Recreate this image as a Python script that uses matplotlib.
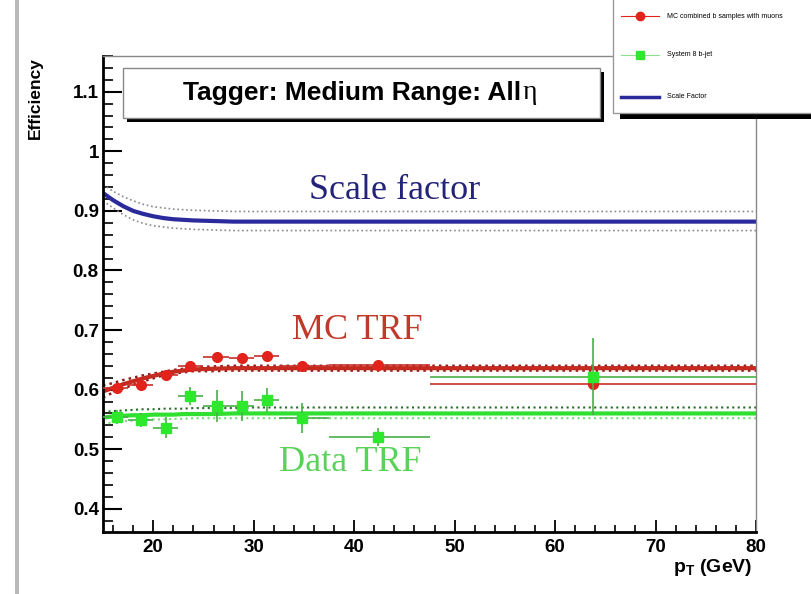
import numpy as np
import matplotlib
matplotlib.use('Agg')
import matplotlib.pyplot as plt
from matplotlib.patches import Rectangle
from matplotlib.lines import Line2D
from matplotlib.text import Annotation
from matplotlib.ticker import MultipleLocator

plt.rcParams['font.family'] = ['Liberation Sans', 'DejaVu Sans']
plt.rcParams['mathtext.fontset'] = 'custom'
plt.rcParams['mathtext.bf'] = 'Liberation Sans:bold'
plt.rcParams['mathtext.rm'] = 'Liberation Sans'

# pT bins (GeV) and measured points
bin_lo = [15.0, 17.5, 20.0, 22.5, 25.0, 27.5, 30.0, 32.5, 37.5, 47.5]
bin_hi = [17.5, 20.0, 22.5, 25.0, 27.5, 30.0, 32.5, 37.5, 47.5, 80.0]
pt = [16.4, 18.75, 21.3, 23.7, 26.3, 28.8, 31.3, 34.8, 42.4, 63.8]

mc_eff = [0.603, 0.608, 0.625, 0.639, 0.655, 0.653, 0.656, 0.639, 0.642, 0.610]
mc_err = [0.004, 0.004, 0.004, 0.004, 0.004, 0.004, 0.004, 0.004, 0.004, 0.004]
data_eff = [0.554, 0.549, 0.536, 0.589, 0.573, 0.573, 0.582, 0.553, 0.521, 0.622]
data_err = [0.012, 0.012, 0.018, 0.015, 0.027, 0.025, 0.020, 0.025, 0.015, 0.065]

# fitted curves
fit_x = [15, 16, 17, 18, 19, 20, 21, 22, 23, 24, 26, 28, 30, 40, 50, 60, 70, 80]
sf = [0.930, 0.918, 0.908, 0.900, 0.895, 0.891, 0.888, 0.886, 0.885, 0.884, 0.883, 0.882, 0.882, 0.882, 0.882, 0.882, 0.882, 0.882]
sf_up = [0.944, 0.933, 0.924, 0.917, 0.911, 0.907, 0.905, 0.903, 0.902, 0.901, 0.900, 0.899, 0.899, 0.899, 0.899, 0.899, 0.899, 0.899]
sf_dn = [0.917, 0.905, 0.894, 0.885, 0.879, 0.875, 0.873, 0.871, 0.870, 0.869, 0.868, 0.867, 0.867, 0.867, 0.867, 0.867, 0.867, 0.867]
mc_fit = [0.597, 0.603, 0.609, 0.614, 0.619, 0.623, 0.627, 0.630, 0.632, 0.634, 0.635, 0.636, 0.636, 0.636, 0.636, 0.636, 0.636, 0.636]
mc_up = [0.607, 0.611, 0.616, 0.620, 0.624, 0.627, 0.630, 0.633, 0.635, 0.637, 0.639, 0.640, 0.640, 0.640, 0.640, 0.640, 0.640, 0.640]
mc_dn = [0.587, 0.595, 0.602, 0.608, 0.614, 0.619, 0.624, 0.627, 0.629, 0.631, 0.631, 0.632, 0.632, 0.632, 0.632, 0.632, 0.632, 0.632]
data_fit = [0.553, 0.555, 0.556, 0.557, 0.557, 0.558, 0.558, 0.558, 0.559, 0.559, 0.559, 0.560, 0.560, 0.560, 0.560, 0.560, 0.560, 0.560]
data_up = [0.562, 0.564, 0.565, 0.566, 0.567, 0.567, 0.568, 0.568, 0.568, 0.569, 0.569, 0.569, 0.570, 0.570, 0.570, 0.570, 0.570, 0.570]
data_dn = [0.542, 0.545, 0.547, 0.548, 0.549, 0.550, 0.550, 0.551, 0.551, 0.552, 0.552, 0.552, 0.552, 0.552, 0.552, 0.552, 0.552, 0.552]

ytick_vals = [0.4, 0.5, 0.6, 0.7, 0.8, 0.9, 1.0, 1.1]
ytick_labels = ['0.4', '0.5', '0.6', '0.7', '0.8', '0.9', '1', '1.1']
xtick_vals = [20, 30, 40, 50, 60, 70, 80]
legend_labels = ['MC combined b samples with muons', 'System 8 b-jet', 'Scale Factor']

W, H = 812, 594
fig = plt.figure(figsize=(W / 100, H / 100), dpi=100)
ax = fig.add_axes([103 / W, 1 - 532 / H, (756 - 103) / W, (532 - 56) / H])

# scale factor with its band
ax.plot(fit_x, sf_up, color='#8a8a8a', ls=':', lw=1.2)
ax.plot(fit_x, sf_dn, color='#8a8a8a', ls=':', lw=1.2)
ax.plot(fit_x, sf, color='#2a2a9c', lw=3)

# MC fit
ax.plot(fit_x, mc_up, color='#8e1a14', ls=':', lw=1.8)
ax.plot(fit_x, mc_dn, color='#8e1a14', ls=':', lw=1.8)
ax.plot(fit_x, mc_fit, color='#c42a20', lw=3)

# data fit
ax.plot(fit_x, data_up, color='#2a6a2a', ls=':', lw=1.5)
ax.plot(fit_x, data_dn, color='#7ad87a', ls=':', lw=1.5)
ax.plot(fit_x, data_fit, color='#30e030', lw=3)

pt_a = np.array(pt)
xerr = [pt_a - np.array(bin_lo), np.array(bin_hi) - pt_a]
ax.errorbar(pt, mc_eff, xerr=xerr, yerr=mc_err, fmt='o', color='#e2231b',
            ecolor='#c8302a', ms=7, elinewidth=1.2, capsize=0, zorder=5)
ax.errorbar(pt, data_eff, xerr=xerr, yerr=data_err, fmt='s', color='#2ee82e',
            ecolor='#48b048', ms=7, elinewidth=1.2, capsize=0, zorder=6)

ax.text(44.0, 0.934, 'Scale factor', family='Liberation Serif', fontsize=26,
        color='#23237a', ha='center', va='center')
ax.text(40.3, 0.700, 'MC TRF', family='Liberation Serif', fontsize=26,
        color='#c0392b', ha='center', va='center')
ax.text(39.6, 0.477, 'Data TRF', family='Liberation Serif', fontsize=26,
        color='#5ad25a', ha='center', va='center')

ax.set_xlim(15, 80)
ax.set_ylim(0.361, 1.16)
ax.set_yticks(ytick_vals)
ax.set_yticklabels(ytick_labels, fontweight='bold', fontsize=13.5)
ax.set_xticks(xtick_vals)
ax.set_xticklabels([str(v) for v in xtick_vals], fontweight='bold', fontsize=13.5)
ax.yaxis.set_minor_locator(MultipleLocator(0.02))
ax.xaxis.set_minor_locator(MultipleLocator(2))
ax.tick_params(axis='y', which='major', direction='in', length=14, width=1.5, pad=3)
ax.tick_params(axis='y', which='minor', direction='in', length=7, width=1.2)
ax.tick_params(axis='x', which='major', direction='in', length=9, width=1.3, pad=5)
ax.tick_params(axis='x', which='minor', direction='in', length=5, width=1.2)
for s in ['left', 'bottom']:
    ax.spines[s].set_linewidth(2)
    ax.spines[s].set_color('black')
for s in ['top', 'right']:
    ax.spines[s].set_linewidth(1)
    ax.spines[s].set_color('#888888')

fig.text(35 / W, 1 - 57 / H, 'Efficiency', rotation=90, ha='center', va='top',
         fontsize=12.5, fontweight='bold')
fig.text(752 / W, 1 - 567 / H, r'$\mathbf{p}_{\mathbf{T}}$ (GeV)', ha='right',
         va='center', fontsize=14, fontweight='bold')

# title box with shadow
fig.add_artist(Rectangle((127 / W, 1 - 122 / H), 477 / W, 50 / H, transform=fig.transFigure,
                         facecolor='black', edgecolor='none', zorder=3))
fig.add_artist(Rectangle((123 / W, 1 - 118 / H), 477 / W, 50 / H, transform=fig.transFigure,
                         facecolor='white', edgecolor='#888888', lw=1, zorder=4))
t = fig.text(352 / W, 1 - 93 / H, 'Tagger: Medium Range: All', ha='center', va='center',
             fontsize=19, fontweight='bold', zorder=5)
fig.add_artist(Annotation('\u03b7', xy=(1.0, 0.0), xycoords=t, xytext=(1, 0),
                          textcoords='offset points', va='bottom', ha='left',
                          family='Liberation Serif', fontsize=20, zorder=5))

# legend box, partly outside the figure
fig.add_artist(Rectangle((620 / W, 1 - 119 / H), 0.3, 0.3, transform=fig.transFigure,
                         facecolor='black', edgecolor='none', zorder=6))
fig.add_artist(Rectangle((613 / W, 1 - 113 / H), 0.3, 0.3, transform=fig.transFigure,
                         facecolor='white', edgecolor='#999999', lw=1, zorder=7))
leg_y = [16, 55, 97]
leg_line = ['#e2231b', '#8ee08e', '#2a2a9c']
leg_lw = [0.8, 0.8, 2.5]
leg_marker = ['o', 's', None]
leg_mcolor = ['#e2231b', '#2ee82e', None]
for yy, lc, lw, mk, mc, lab in zip(leg_y, leg_line, leg_lw, leg_marker, leg_mcolor, legend_labels):
    fy = 1 - yy / H
    fig.add_artist(Line2D([621 / W, 659 / W], [fy, fy], transform=fig.transFigure,
                          color=lc, lw=lw, zorder=8))
    if mk:
        fig.add_artist(Line2D([640 / W], [fy], transform=fig.transFigure, ls='none',
                              marker=mk, ms=6, color=mc, zorder=9))
    fig.text(667 / W, fy, lab, fontsize=5, ha='left', va='center', zorder=9)

# grey frame edge on the left
fig.add_artist(Rectangle((15 / W, 0), 4 / W, 1, transform=fig.transFigure,
                         facecolor='#b8b8b8', edgecolor='none', zorder=1))

fig.savefig('out.png', dpi=100)
